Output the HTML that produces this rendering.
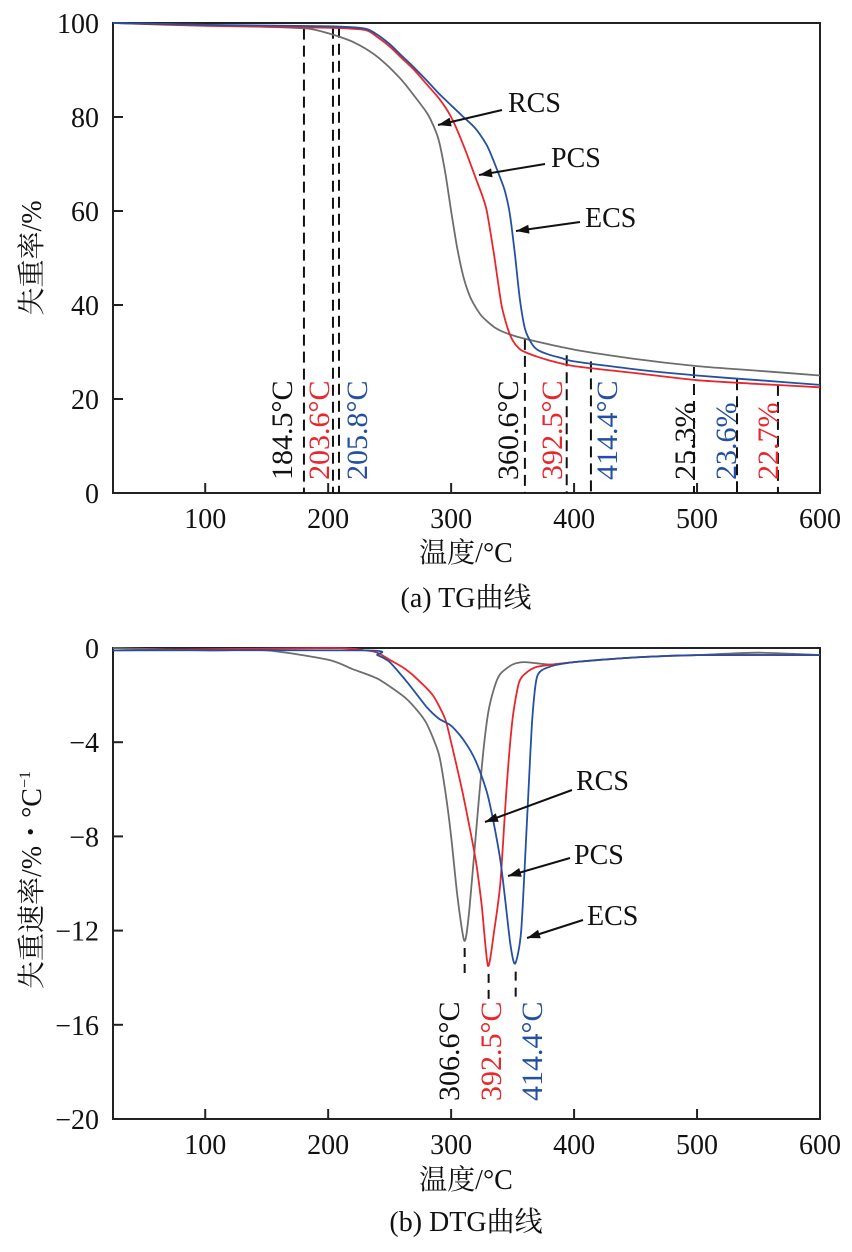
<!DOCTYPE html>
<html><head><meta charset="utf-8"><style>
html,body{margin:0;padding:0;background:#fff;}
svg text{font-family:"Liberation Serif","Noto Serif CJK SC","Noto Sans CJK SC",serif;}
</style></head><body>
<svg id="svg" width="852" height="1247" viewBox="0 0 852 1247" xmlns="http://www.w3.org/2000/svg"></svg>
<script>
// ---- data ----
const xTicks=[100,200,300,400,500,600];
const tgYTicks=[0,20,40,60,80,100];
const dtgYTicks=[0,-4,-8,-12,-16,-20];
const dtgYTickLabels=['0','−4','−8','−12','−16','−20'];
const tgRcsT=[25,100,150,184,200,210,220,230,240,250,260,270,280,285,290,295,300,305,310,315,320,325,335,345,360,400,450,500,550,600];
const tgRcsV=[100,99.6,99.2,98.8,97.8,97,96,94.6,92.8,90.5,87.8,84.5,81,78.5,75,68.5,60,52,46,42,39.5,37.6,35.3,34,32.8,30.5,28.5,27,26,25];
const tgPcsT=[25,100,200,230,240,250,260,270,280,290,300,310,320,325,329,335,341,346,350,355,360,370,380,400,450,500,550,600];
const tgPcsV=[100,99.4,99,98.5,97,95,92.5,90,87,84,80,74,67,63.5,60,50.5,40,35,32.5,30.8,30,29,28.2,27,25.5,24,23.2,22.5];
const tgEcsT=[25,100,200,230,240,250,260,270,280,290,300,310,320,330,340,344,348,352,356,360,365,370,380,390,400,450,500,550,600];
const tgEcsV=[100,99.6,99.3,98.8,97.5,95.5,93,90.5,87.8,85,82.5,80,77.5,73.5,67,64,59,50.5,41,35,32,30.5,29.4,28.7,28,26.3,25,24,23];
const dtgRcsT=[25,100,150,200,220,240,260,270,280,290,295,300,305,310,312,315,320,325,330,335,340,350,360,380,400,450,500,550,600];
const dtgRcsV=[0,-0.1,-0.1,-0.5,-0.9,-1.3,-2,-2.5,-3.2,-4.5,-6,-8,-10.5,-12.3,-12.3,-11,-8,-5,-2.8,-1.7,-1.1,-0.7,-0.6,-0.7,-0.6,-0.4,-0.3,-0.2,-0.3];
const dtgPcsT=[25,200,230,240,250,260,270,285,295,300,310,320,325,330,335,340,345,350,355,360,370,400,450,500,600];
const dtgPcsV=[-0.1,0,-0.1,-0.2,-0.5,-0.8,-1.2,-2,-3,-4,-6.3,-9,-11,-13.5,-12,-10,-6,-3,-1.5,-1.1,-0.8,-0.6,-0.4,-0.3,-0.3];
const dtgEcsT=[25,230,240,250,265,280,290,300,310,320,330,340,348,352,357,362,366,370,380,400,450,500,600];
const dtgEcsV=[-0.1,-0.1,-0.3,-0.6,-1.5,-2.5,-3,-3.3,-3.9,-4.8,-6.3,-9,-12.5,-13.4,-12,-7,-3,-1.2,-0.8,-0.6,-0.4,-0.3,-0.3];
const tgMarkT=[180.3,203.9,208.8,360,394,413.7,497.5,532.5,565.8];
const tgMarkV=[98.8,99,99.2,32.8,29.3,28,26.8,24.2,23];
const tgMarkLabels=['184.5°C','203.6°C','205.8°C','360.6°C','392.5°C','414.4°C','25.3%','23.6%','22.7%'];
const tgMarkLabelX=[282,319,357,508,552,607,685,726,768];
const dtgPeakT=[311,330.5,352.5];
const dtgPeakV=[-12.4,-13.5,-13.4];
const dtgPeakLabels=['306.6°C','392.5°C','414.4°C'];
const dtgPeakLabelX=[449,491,532];
const colors={RCS:'#6d6d6d',PCS:'#e8262b',ECS:'#2350a0'};
const markColors=['#111','#e8262b','#2350a0','#111','#e8262b','#2350a0','#111','#2350a0','#e8262b'];
const peakColors=['#111','#e8262b','#2350a0'];

const NS='http://www.w3.org/2000/svg';
const svg=document.getElementById('svg');
function el(tag,attrs,parent){const e=document.createElementNS(NS,tag);for(const k in attrs)e.setAttribute(k,attrs[k]);(parent||svg).appendChild(e);return e;}
const L=113,R=820;
const sx=t=>L+(t-25)*(R-L)/575;
const tgY=v=>493-v*4.7;
const dtgY=v=>648-v*(-471/-20);

function frame(top,bottom,yTicks,yFn,yLabels,name){
  const g=el('g',{});
  
  
  const r=el('rect',{x:L,y:top,width:R-L,height:bottom-top,fill:'none',stroke:'#222','stroke-width':2},g);
  
  
  xTicks.forEach(t=>{
    const x=sx(t);
    if(t<600){const tk=el('line',{x1:x,y1:bottom,x2:x,y2:bottom-10,stroke:'#222','stroke-width':2},g);
    
    }
    const tx=el('text',{x:x,y:bottom+35,'font-size':28,'text-anchor':'middle',fill:'#111'},g);
    tx.textContent=t;
    
    
  });
  yTicks.forEach((v,i)=>{
    const y=yFn(v);
    if(i>0&&i<yTicks.length-1){const tk=el('line',{x1:L,y1:y,x2:L+10,y2:y,stroke:'#222','stroke-width':2},g);
    
    }
    const tx=el('text',{x:L-14,y:y+10,'font-size':28,'text-anchor':'end',fill:'#111'},g);
    tx.textContent=yLabels[i];
    
    
  });
}
function series(T,V,yFn,color,name){
  const P=T.map((t,i)=>[sx(t),yFn(V[i])]);
  let d='M'+P[0][0].toFixed(1)+','+P[0][1].toFixed(1);
  const k=0.12;
  for(let i=0;i<P.length-1;i++){
    const p0=P[Math.max(0,i-1)],p1=P[i],p2=P[i+1],p3=P[Math.min(P.length-1,i+2)];
    const c1=[p1[0]+(p2[0]-p0[0])*k,p1[1]+(p2[1]-p0[1])*k];
    const c2=[p2[0]-(p3[0]-p1[0])*k,p2[1]-(p3[1]-p1[1])*k];
    d+=` C${c1[0].toFixed(1)},${c1[1].toFixed(1)} ${c2[0].toFixed(1)},${c2[1].toFixed(1)} ${p2[0].toFixed(1)},${p2[1].toFixed(1)}`;
  }
  const p=el('path',{d:d,fill:'none',stroke:color,'stroke-width':1.8,'stroke-linejoin':'round'});
  
  
}
function text(x,y,s,opts,name){
  const t=el('text',Object.assign({x:x,y:y,'font-size':28,fill:'#111'},opts||{}));
  t.textContent=s;
  
  
  return t;
}
function vtext(cx,bottomY,s,color,name){
  const t=el('text',{x:0,y:0,'font-size':30,fill:color,transform:'translate('+(cx+10)+','+bottomY+') rotate(-90)'});
  t.textContent=s;
  
  
}
function arrow(x1,y1,x2,y2,name){
  const g=el('g',{});
  
  
  el('line',{x1:x1,y1:y1,x2:x2,y2:y2,stroke:'#111','stroke-width':2},g);
  const a=Math.atan2(y2-y1,x2-x1),l=13,w=4.5;
  const bx=x2-l*Math.cos(a),by=y2-l*Math.sin(a);
  el('polygon',{points:`${x2},${y2} ${bx+w*Math.sin(a)},${by-w*Math.cos(a)} ${bx-w*Math.sin(a)},${by+w*Math.cos(a)}`,fill:'#111'},g);
}

// ---- TG chart ----
frame(23,493,tgYTicks,tgY,tgYTicks.map(String),'tg-axes');
tgMarkT.forEach((t,i)=>{
  const ln=el('line',{x1:sx(t),y1:tgY(tgMarkV[i]),x2:sx(t),y2:493,stroke:'#111','stroke-width':2,'stroke-dasharray':'11,6'});
  
  
  vtext(tgMarkLabelX[i],480,tgMarkLabels[i],markColors[i],'tg-marker-label');
});
series(tgRcsT,tgRcsV,tgY,colors.RCS,'tg-rcs-line');
series(tgPcsT,tgPcsV,tgY,colors.PCS,'tg-pcs-line');
series(tgEcsT,tgEcsV,tgY,colors.ECS,'tg-ecs-line');
arrow(502,110,438,125,'tg-rcs-arrow');text(508,112,'RCS',{},'tg-rcs-label');
arrow(545,164,479,175,'tg-pcs-arrow');text(551,167,'PCS',{},'tg-pcs-label');
arrow(580,222,516,231,'tg-ecs-arrow');text(585,227,'ECS',{},'tg-ecs-label');
text(466,562,'温度/°C',{'text-anchor':'middle'},'tg-x-axis-title');
text(0,0,'失重率/%',{'text-anchor':'middle',transform:'translate(41,258) rotate(-90)'},'tg-y-axis-title');
text(466,607,'(a) TG曲线',{'text-anchor':'middle'},'tg-caption');

// ---- DTG chart ----
frame(648,1119,dtgYTicks,dtgY,dtgYTickLabels,'dtg-axes');
series(dtgRcsT,dtgRcsV,dtgY,colors.RCS,'dtg-rcs-line');
series(dtgPcsT,dtgPcsV,dtgY,colors.PCS,'dtg-pcs-line');
series(dtgEcsT,dtgEcsV,dtgY,colors.ECS,'dtg-ecs-line');
dtgPeakT.forEach((t,i)=>{
  const ln=el('line',{x1:sx(t),y1:dtgY(dtgPeakV[i])+8,x2:sx(t),y2:dtgY(dtgPeakV[i])+40,stroke:'#111','stroke-width':2,'stroke-dasharray':'9,7'});
  
  
  vtext(dtgPeakLabelX[i],1101,dtgPeakLabels[i],peakColors[i],'dtg-peak-label');
});
arrow(572,790,485,822,'dtg-rcs-arrow');text(576,790,'RCS',{},'dtg-rcs-label');
arrow(570,858,508,876,'dtg-pcs-arrow');text(574,864,'PCS',{},'dtg-pcs-label');
arrow(583,920,527,938,'dtg-ecs-arrow');text(587,925,'ECS',{},'dtg-ecs-label');
text(466,1189,'温度/°C',{'text-anchor':'middle'},'dtg-x-axis-title');
const yt=text(0,0,'失重速率/%・°C',{'text-anchor':'middle',transform:'translate(41,880) rotate(-90)'},'dtg-y-axis-title');
const sup=document.createElementNS(NS,'tspan');sup.setAttribute('font-size','16');sup.setAttribute('dy','-11');sup.textContent='−1';yt.appendChild(sup);
text(466,1231,'(b)  DTG曲线',{'text-anchor':'middle'},'dtg-caption');
</script>
</body></html>
